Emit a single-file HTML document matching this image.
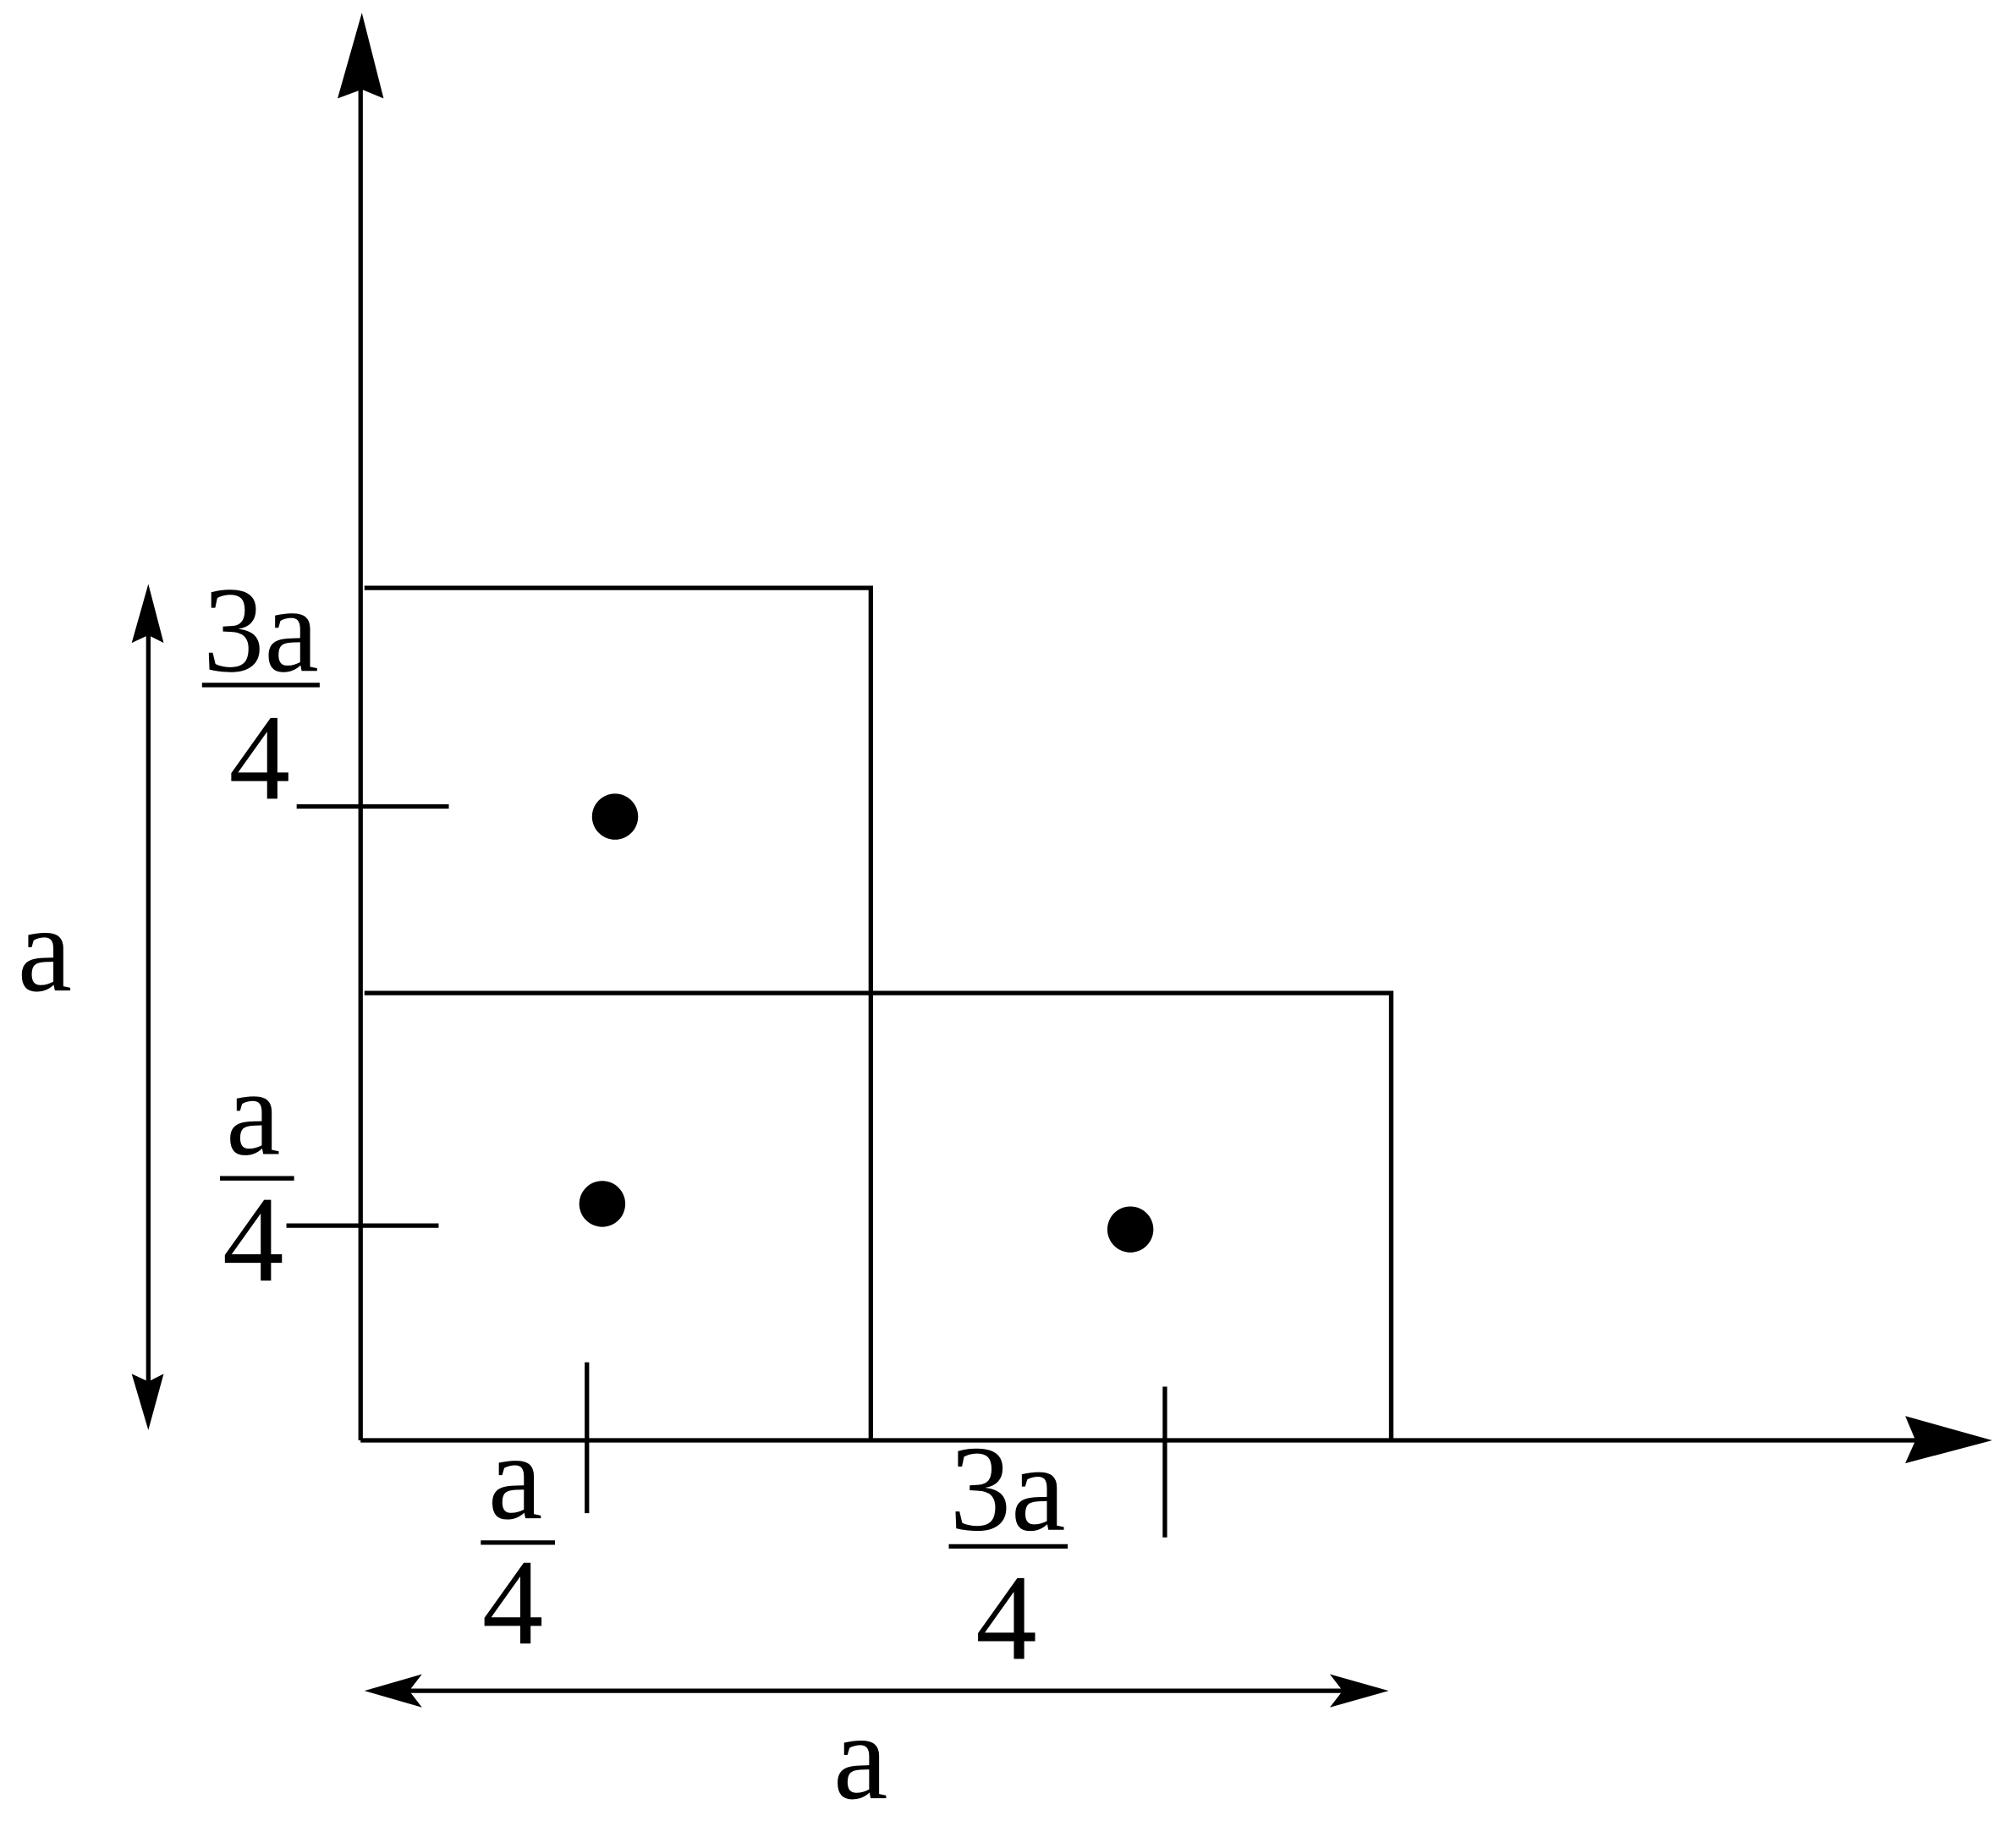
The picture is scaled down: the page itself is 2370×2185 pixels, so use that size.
<!DOCTYPE html>
<html><head><meta charset="utf-8"><style>
html,body{margin:0;padding:0;background:#fff;}
svg{display:block;}
</style></head><body>
<svg width="2370" height="2185" viewBox="0 0 1568 1446" preserveAspectRatio="none" xmlns="http://www.w3.org/2000/svg">
<g stroke="#000" stroke-width="3.5" fill="none">
<line x1="282" y1="1127" x2="282" y2="60"/>
<line x1="282" y1="1127" x2="1510" y2="1127"/>
<polyline points="285,460 681,460 681,1127"/>
<polyline points="285,777 1088,777 1088,1127"/>
<line x1="232" y1="631" x2="351" y2="631"/>
<line x1="224" y1="959" x2="343" y2="959"/>
<line x1="459" y1="1066" x2="459" y2="1184"/>
<line x1="911" y1="1085" x2="911" y2="1203"/>
<line x1="116" y1="490" x2="116" y2="1085"/>
<line x1="310" y1="1323" x2="1060" y2="1323"/>
<line x1="158" y1="536" x2="250" y2="536"/>
<line x1="172" y1="922" x2="230" y2="922"/>
<line x1="376" y1="1207" x2="434" y2="1207"/>
<line x1="742" y1="1210" x2="835" y2="1210"/>
</g>
<g fill="#000">
<polygon points="283,10 300,77 283,70 264,77"/>
<polygon points="1558,1127 1490,1145 1498,1127 1490,1108"/>
<polygon points="116,457 128,503 116,497 103,503"/>
<polygon points="116,1119 128,1075 116,1081 103,1075"/>
<polygon points="285,1323 330,1310 320,1323 330,1336"/>
<polygon points="1086,1323 1040,1310 1050,1323 1040,1336"/>
<circle cx="481" cy="639" r="18"/>
<circle cx="471" cy="942" r="18"/>
<circle cx="884" cy="962" r="18"/>
</g>
<g font-size="96" text-anchor="middle" fill="#000" font-family="'Liberation Serif', 'DejaVu Serif', serif" style="font-family:'Liberation Serif','DejaVu Serif',serif">
<text x="204" y="525">3a</text>
<text x="203" y="625">4</text>
<text x="198" y="903">a</text>
<text x="198" y="1002">4</text>
<text x="403" y="1188">a</text>
<text x="401" y="1286">4</text>
<text x="788" y="1197">3a</text>
<text x="787" y="1298">4</text>
<text x="35" y="775">a</text>
<text x="673" y="1407">a</text>
</g>
</svg>
</body></html>
